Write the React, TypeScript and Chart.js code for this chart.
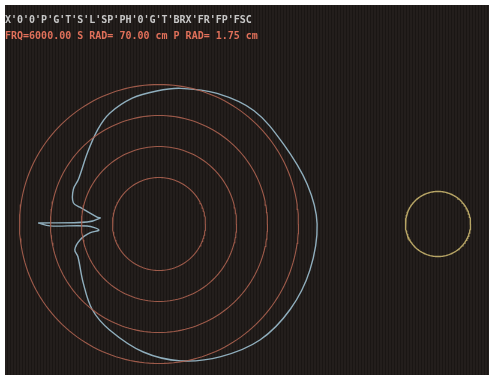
import React, { useEffect, useRef } from "react";
import { Chart, registerables } from "chart.js";

Chart.register(...registerables);

// Header text lines (as shown on the instrument screen)
const headerLine1 = "X'0'0'P'G'T'S'L'SP'PH'0'G'T'BRX'FR'FP'FSC";
const headerLine2 = "FRQ=6000.00 S RAD= 70.00 cm P RAD= 1.75 cm";

// Concentric reference rings (radius, in grid units)
const ringRadii = [1.5, 2.5, 3.5, 4.5];

// Measured pattern (polar), starting at the spike tip: angle in degrees, radius in grid units
const patternAngles = [
  179.5, 181, 181.6, 185.7, 187.4, 191.4, 197, 202, 218, 232, 245, 263,
  279, 295, 311, 327, 343, 360, 375, 393, 410, 426, 441, 451, 462, 474, 483, 495,
  511, 518, 526, 528, 533.6, 534.2, 538.4,
];
const patternRadii = [
  3.9, 3.52, 2.32, 1.95, 2.25, 2.6, 2.84, 2.82, 3.1, 3.5,
  3.77, 4.16, 4.47, 4.72, 4.96, 5.05, 5.09, 5.1, 4.95, 4.77, 4.77, 4.61, 4.43, 4.29,
  4.15, 3.91, 3.63, 3.26, 2.97, 2.98, 2.85, 2.61, 2.01, 1.91, 2.32,
];

// Small probe circle: centre x and radius, in grid units
const probeCenterX = [9.0];
const probeRadius = [1.05];

function circlePoints(cx: number, cy: number, r: number, n = 180) {
  const pts: { x: number; y: number }[] = [];
  for (let i = 0; i <= n; i++) {
    const a = (i / n) * Math.PI * 2;
    pts.push({ x: cx + r * Math.cos(a), y: cy + r * Math.sin(a) });
  }
  return pts;
}

function polarPoints(angles: number[], radii: number[]) {
  const pts = angles.map((a, i) => ({
    x: radii[i] * Math.cos((a * Math.PI) / 180),
    y: radii[i] * Math.sin((a * Math.PI) / 180),
  }));
  pts.push({ ...pts[0] });
  return pts;
}

export default function App() {
  const ref = useRef<HTMLCanvasElement | null>(null);

  useEffect(() => {
    if (!ref.current) return;
    const ringColor = "rgba(172,98,80,0.9)";
    const datasets: any[] = ringRadii.map((r) => ({
      data: circlePoints(0, 0, r),
      borderColor: ringColor,
      borderWidth: 1.1,
      showLine: true,
      pointRadius: 0,
      tension: 0,
    }));
    datasets.push({
      data: polarPoints(patternAngles, patternRadii),
      borderColor: "rgba(150,182,198,0.95)",
      borderWidth: 1.4,
      showLine: true,
      pointRadius: 0,
      tension: 0.35,
    });
    datasets.push({
      data: circlePoints(probeCenterX[0], 0, probeRadius[0]),
      borderColor: "rgba(200,180,110,0.9)",
      borderWidth: 1.4,
      showLine: true,
      pointRadius: 0,
      tension: 0,
    });

    const unit = 31;
    const cxPx = 159;
    const cyPx = 224;
    const chart = new Chart(ref.current, {
      type: "scatter",
      data: { datasets },
      options: {
        animation: false,
        responsive: false,
        layout: { padding: 0 },
        plugins: { legend: { display: false }, tooltip: { enabled: false } },
        scales: {
          x: { type: "linear", display: false, min: -cxPx / unit, max: (491 - cxPx) / unit },
          y: { type: "linear", display: false, min: -(380 - cyPx) / unit, max: cyPx / unit },
        },
      },
    });
    return () => chart.destroy();
  }, []);

  const textStyle: React.CSSProperties = {
    position: "absolute",
    left: 5,
    fontFamily: "'DejaVu Sans Mono', monospace",
    fontWeight: "bold",
    fontSize: 10,
    whiteSpace: "pre",
    lineHeight: "12px",
  };

  return (
    <div style={{ position: "fixed", left: 0, top: 0, width: 491, height: 380, background: "#ffffff", overflow: "hidden" }}>
      <div
        style={{
          position: "absolute",
          left: 5,
          top: 5,
          width: 484,
          height: 370,
          background: "repeating-linear-gradient(90deg, #231e1c 0px, #231e1c 2px, #1a1614 2px, #1a1614 3px)",
        }}
      />
      <canvas ref={ref} width={491} height={380} style={{ position: "absolute", left: 0, top: 0, display: "block" }} />
      <div style={{ ...textStyle, top: 14, color: "#c8c8c8" }}>{headerLine1}</div>
      <div style={{ ...textStyle, top: 30, color: "#e0705a" }}>{headerLine2}</div>
    </div>
  );
}
